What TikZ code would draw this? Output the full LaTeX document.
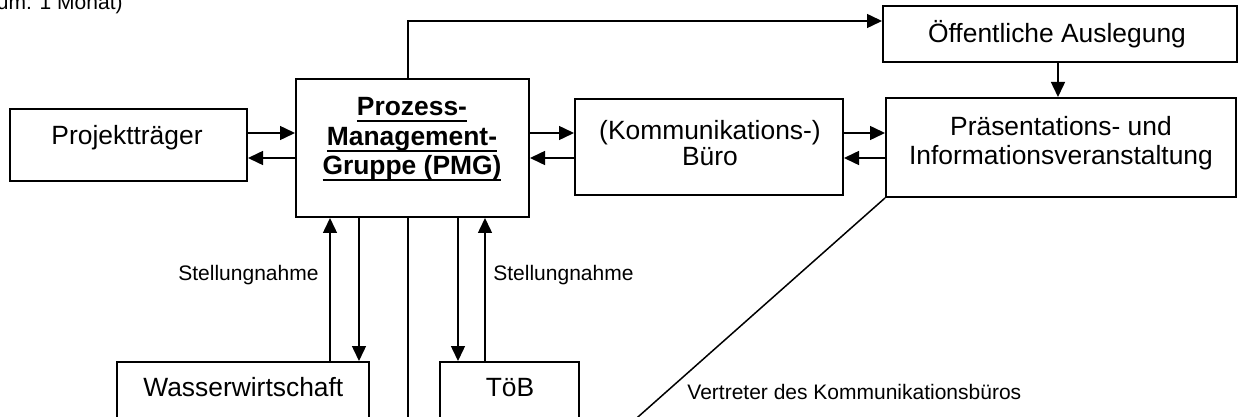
\documentclass[tikz,border=0pt]{standalone}
\usepackage{fontspec}
\setmainfont{Liberation Sans}
\usetikzlibrary{arrows.meta}
\newcommand{\pmgul}[1]{\setbox0\hbox{#1}\leavevmode\rlap{\rule[-3.2pt]{\wd0}{1pt}}\box0}
\begin{document}
\begin{tikzpicture}[x=0.5pt,y=-0.5pt,
  box/.style={draw, line width=1pt, inner sep=0pt},
  txt/.style={inner sep=0pt, anchor=base, font=\fontsize{13.2pt}{15pt}\selectfont},
  boldtxt/.style={txt, font=\fontsize{13.2pt}{15pt}\selectfont\bfseries},
  small/.style={inner sep=0pt, font=\fontsize{10.5pt}{12pt}\selectfont},
  conn/.style={line width=0.75pt},
  arr/.style={conn, -{Triangle[length=7.5pt,width=7pt]}}]
\useasboundingbox (0,0) rectangle (1244,417);

% helper coordinates
\coordinate (y21) at (0,21);
\coordinate (y133) at (0,133);
\coordinate (y158) at (0,158);
\coordinate (x330) at (330,0);
\coordinate (x359) at (359,0);
\coordinate (x408) at (408,0);
\coordinate (x457) at (458,0);
\coordinate (x485) at (485,0);
\coordinate (x1058) at (1058,0);
\coordinate (down408) at (408,440);
\coordinate (diagend) at (612,440);

% boxes
\node[box, minimum width=177pt, minimum height=28pt] (oeff) at (1060,34) {};
\node[txt] (oefft) at (1057,43) {Öffentliche Auslegung};

\node[box, minimum width=175pt, minimum height=49.5pt] (pres) at (1061,147.5) {};
\node[txt] (pres1) at (1061,135.5) {Präsentations- und};
\node[txt] (pres2) at (1061,164.5) {Informationsveranstaltung};

\node[box, minimum width=134pt, minimum height=48pt] (buero) at (709,147) {};
\node[txt] (buero1) at (710,139.5) {(Kommunikations-)};
\node[txt] (buero2) at (710,165.5) {Büro};

\node[box, minimum width=116.5pt, minimum height=69pt] (pmg) at (412.5,148) {};
\node[boldtxt] (pmg1) at (412,116) {\pmgul{Prozess-}};
\node[boldtxt] (pmg2) at (412,145.5) {\pmgul{Management-}};
\node[boldtxt] (pmg3) at (412,175) {\pmgul{Gruppe (PMG)}};

\node[box, minimum width=118.5pt, minimum height=36pt] (proj) at (128.5,145) {};
\node[txt] (projt) at (127,145) {Projektträger};

\node[box, minimum width=126pt, minimum height=34pt] (wasser) at (243,396) {};
\node[txt] (wassert) at (243.3,396) {Wasserwirtschaft};

\node[box, minimum width=69.5pt, minimum height=34pt] (toeb) at (509.5,396) {};
\node[txt] (toebt) at (510,396) {TöB};

% connectors
\draw[arr] (proj.east |- y133) -- (pmg.west |- y133);
\draw[arr] (pmg.west |- y158) -- (proj.east |- y158);
\draw[arr] (pmg.east |- y133) -- (buero.west |- y133);
\draw[arr] (buero.west |- y158) -- (pmg.east |- y158);
\draw[arr] (buero.east |- y133) -- (pres.west |- y133);
\draw[arr] (pres.west |- y158) -- (buero.east |- y158);
\draw[arr] (oeff.south -| x1058) -- (pres.north -| x1058);
\draw[arr] (pmg.north -| x408) |- (oeff.west |- y21);
\draw[arr] (wasser.north -| x330) -- (pmg.south -| x330);
\draw[arr] (pmg.south -| x359) -- (wasser.north -| x359);
\draw[conn] (pmg.south -| x408) -- (down408);
\draw[arr] (pmg.south -| x457) -- (toeb.north -| x457);
\draw[arr] (toeb.north -| x485) -- (pmg.south -| x485);
\draw[conn] (pres.south west) -- (diagend);

% labels
\node[small, anchor=base west] (st1) at (178,280) {Stellungnahme};
\node[small, anchor=base west] (st2) at (493,280) {Stellungnahme};
\node[small, anchor=base west] (vert) at (687,400) {Vertreter des Kommunikationsbüros};
\node[small, anchor=base east] (zeit) at (123,10) {um: 1 Monat)};
\end{tikzpicture}
\end{document}
